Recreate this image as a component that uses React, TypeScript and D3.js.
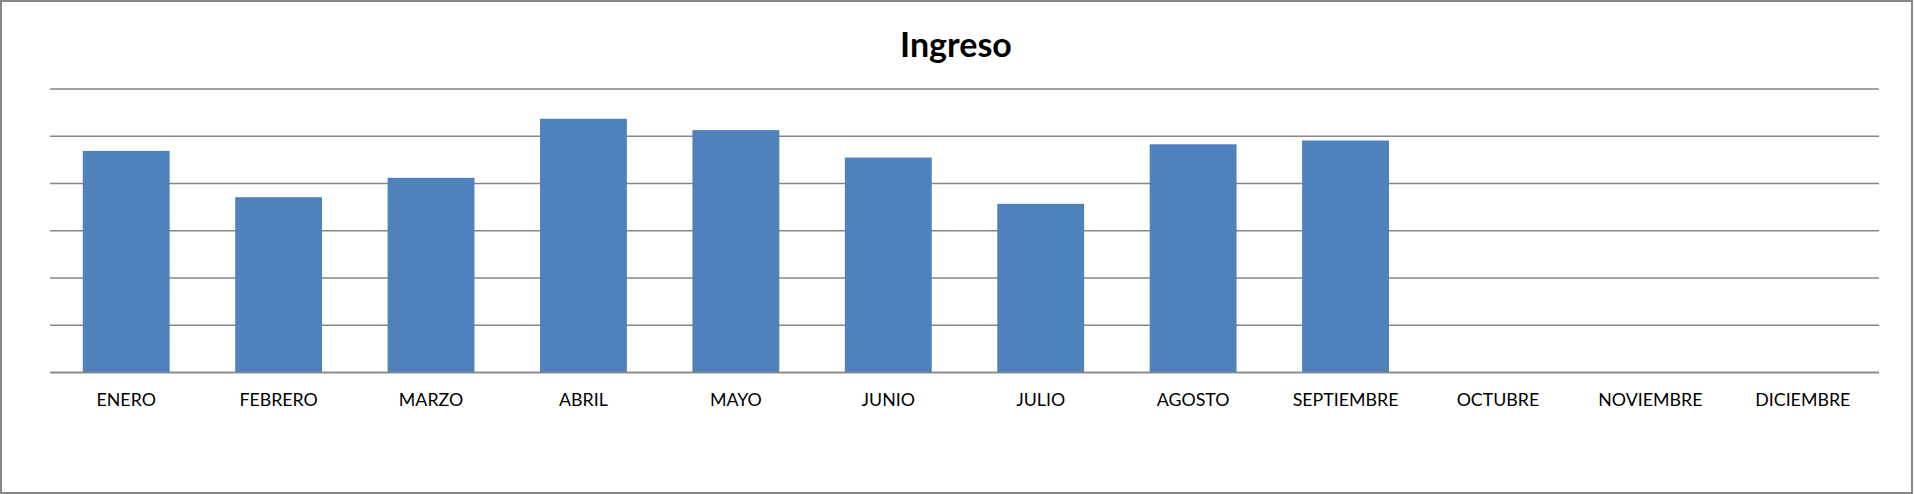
import React from "react";
import * as d3 from "d3";

const categories = ["ENERO", "FEBRERO", "MARZO", "ABRIL", "MAYO", "JUNIO", "JULIO", "AGOSTO", "SEPTIEMBRE", "OCTUBRE", "NOVIEMBRE", "DICIEMBRE"];
const ingreso: (number | null)[] = [4.69, 3.71, 4.12, 5.37, 5.13, 4.55, 3.57, 4.83, 4.91, null, null, null];
const gridTicks = [0, 1, 2, 3, 4, 5, 6];
const title = "Ingreso";

const W = 1914;
const H = 494;

export default function App() {
  const x = d3.scaleBand<string>().domain(categories).range([50, 1879]).paddingInner(0.43).paddingOuter(0.215);
  const y = d3.scaleLinear().domain([0, 6]).range([372.5, 89]);
  const font = "Lato, 'Open Sans', sans-serif";
  return (
    <>
      <style>{"body{margin:0}"}</style>
      <svg width={W} height={H} style={{ display: "block" }}>
        <rect x={1} y={1} width={W - 3} height={H - 2} fill="#fff" stroke="#868686" strokeWidth={2} />
        <text x={956} y={57} textAnchor="middle" fontFamily={font} fontWeight={700} fontSize={34} fill="#000">{title}</text>
        {gridTicks.map((t) => (
          <line key={t} x1={50} x2={1879} y1={y(t)} y2={y(t)} stroke="#868686" strokeWidth={1.4} />
        ))}
        {categories.map((c, i) =>
          ingreso[i] == null ? null : (
            <rect key={c} x={x(c)} y={y(ingreso[i] as number)} width={x.bandwidth()} height={y(0) - y(ingreso[i] as number)} fill="#4F81BD" />
          )
        )}
        <line x1={50} x2={1879} y1={y(0)} y2={y(0)} stroke="#868686" strokeWidth={1.4} />
        {categories.map((c) => (
          <text key={c} x={(x(c) as number) + x.bandwidth() / 2} y={405.5} textAnchor="middle" fontFamily={font} fontSize={17.8} fill="#000">{c}</text>
        ))}
      </svg>
    </>
  );
}
